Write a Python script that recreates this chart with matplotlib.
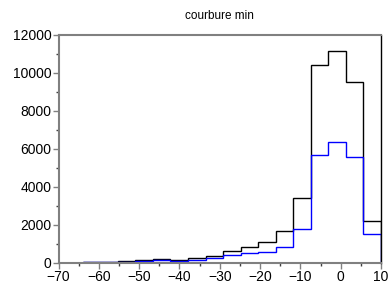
import numpy as np
import matplotlib
matplotlib.use('Agg')
import matplotlib.pyplot as plt
from matplotlib.ticker import MultipleLocator

plt.rcParams['font.family'] = ['Liberation Sans', 'DejaVu Sans']

# histogram bins: 17 bins from -64 to 10
edges = np.linspace(-64, 10, 18)
black_counts = [50, 50, 100, 150, 200, 150, 230, 330, 630, 800, 1070, 1660,
                3420, 10400, 11160, 9500, 2210]
blue_counts = [20, 30, 60, 80, 120, 100, 130, 230, 400, 490, 580, 820,
               1750, 5640, 6360, 5540, 1510]

fig = plt.figure(figsize=(3.9, 2.88), dpi=100)
ax = fig.add_axes([0.15, 0.088, 0.827, 0.792])

ax.stairs(black_counts, edges, baseline=0, color='black', lw=1.0)
ax.stairs(blue_counts, edges, baseline=0, color='#0000ff', lw=1.0)

ax.set_xlim(-70, 10)
ax.set_ylim(0, 12000)
ax.xaxis.set_major_locator(MultipleLocator(10))
ax.xaxis.set_minor_locator(MultipleLocator(5))
ax.yaxis.set_major_locator(MultipleLocator(2000))
ax.yaxis.set_minor_locator(MultipleLocator(1000))

ax.tick_params(axis='both', which='major', direction='out', length=4,
               width=1, color='#808080', labelsize=10, pad=1)
ax.tick_params(axis='both', which='minor', direction='out', length=2,
               width=1, color='#404040')

for side in ['left', 'bottom', 'top']:
    ax.spines[side].set_color('#808080')
    ax.spines[side].set_linewidth(1.5)
ax.spines['right'].set_color('black')
ax.spines['right'].set_linewidth(1.0)

ax.set_title('courbure min', fontsize=8.5, pad=11)

fig.savefig('out.png', dpi=100)
